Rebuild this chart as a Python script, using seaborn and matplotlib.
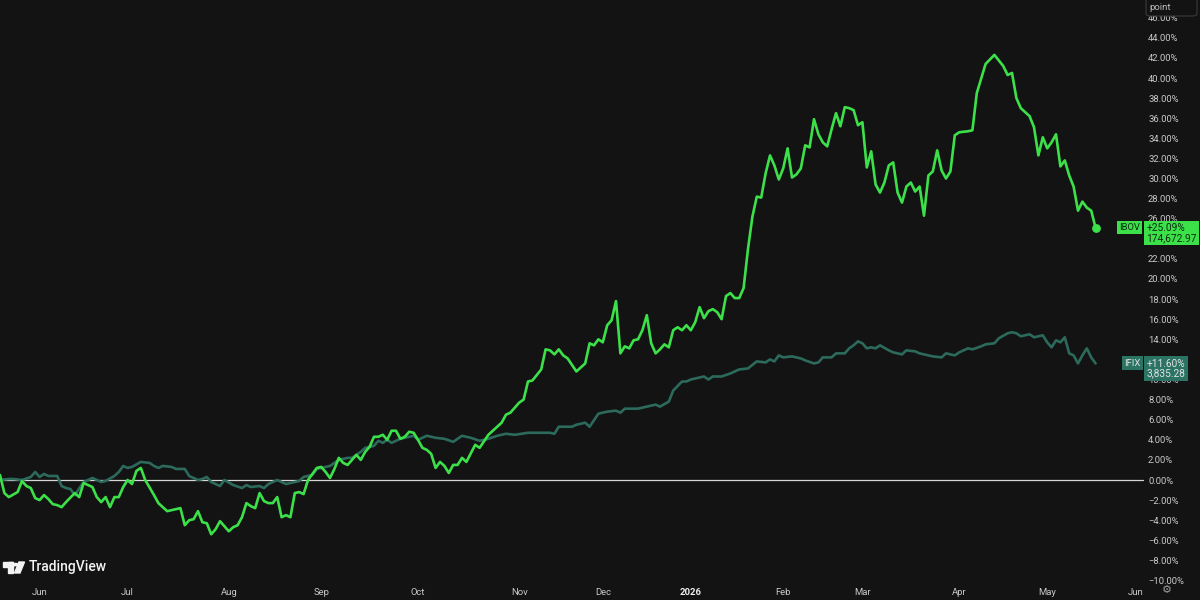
import pandas as pd
import seaborn as sns
import matplotlib.pyplot as plt
from matplotlib.patches import Rectangle, Circle, Polygon, FancyBboxPatch

# IBOV vs IFIX, % change since start, x = trading session index
ibov_day = [0, 1, 2, 4, 5, 6, 7, 8, 9, 10, 11, 12, 13, 14, 15, 17, 18, 19, 21, 22,
            23, 24, 25, 26, 27, 28, 29, 30, 31, 32, 33, 35, 36, 38, 40, 41, 42, 43, 44, 45,
            46, 47, 48, 49, 50, 51, 52, 53, 54, 55, 56, 57, 58, 59, 60, 61, 62, 63, 64, 65,
            66, 67, 68, 69, 70, 72, 73, 74, 75, 76, 77, 78, 79, 80, 81, 82, 83, 84, 85, 86,
            87, 88, 89, 90, 91, 92, 93, 94, 95, 96, 97, 98, 99, 100, 101, 102, 103, 104, 105, 106,
            108, 109, 111, 114, 115, 116, 118, 119, 120, 121, 123, 124, 125, 126, 127, 128, 129, 131, 132, 133,
            134, 135, 136, 137, 138, 139, 140, 141, 142, 143, 144, 145, 146, 147, 148, 149, 150, 151, 152, 153,
            154, 155, 156, 157, 158, 159, 160, 161, 162, 163, 164, 165, 166, 167, 168, 169, 170, 171, 172, 173,
            174, 175, 176, 177, 178, 179, 180, 181, 182, 183, 184, 185, 186, 187, 188, 189, 190, 191, 192, 193,
            194, 195, 196, 197, 198, 199, 200, 201, 202, 203, 204, 205, 206, 207, 208, 209, 210, 211, 212, 213,
            214, 215, 216, 217, 218, 220, 221, 222, 224, 226, 228, 229, 230, 231, 232, 234, 235, 236, 237, 238,
            239, 240, 241, 242, 243, 244, 245, 246, 247, 248, 249]
ibov_pct = [0.5, -1.3, -1.7, -1.2, -0.1, -0.6, -0.8, -1.8, -2.0, -1.5, -1.9, -2.4, -2.5, -2.7, -2.2, -1.3, -1.7, -0.3, -0.7, -1.7,
            -2.2, -1.7, -2.7, -1.7, -1.7, -0.7, 0.0, -0.4, 0.9, 1.2, 0.0, -1.5, -2.3, -3.1, -2.9, -2.8, -4.5, -4.0, -3.9, -3.1,
            -4.2, -4.3, -5.4, -4.9, -4.1, -4.6, -5.1, -4.7, -4.5, -3.7, -2.3, -2.6, -2.8, -1.3, -2.1, -2.3, -2.3, -1.7, -3.7, -3.5,
            -3.7, -1.3, -1.2, -1.4, 0.0, 1.2, 1.3, 0.8, 0.2, 1.1, 2.2, 1.7, 1.5, 2.0, 2.5, 2.0, 2.8, 3.3, 4.3, 4.3,
            4.5, 4.0, 4.9, 4.9, 4.1, 4.3, 4.8, 4.7, 4.0, 3.2, 3.0, 2.6, 1.2, 1.8, 1.4, 0.7, 1.5, 1.5, 2.2, 1.8,
            3.5, 3.2, 4.5, 5.7, 6.5, 6.7, 7.7, 8.0, 9.8, 9.9, 11.0, 13.0, 12.9, 12.5, 13.0, 12.4, 12.1, 10.8, 11.2, 11.6,
            13.6, 13.4, 14.0, 13.7, 15.4, 15.9, 17.8, 12.6, 13.3, 13.1, 13.9, 14.0, 14.9, 16.4, 13.6, 12.6, 13.0, 13.5, 13.2, 14.9,
            15.2, 14.9, 15.4, 14.9, 15.7, 17.2, 16.1, 16.8, 17.0, 16.7, 16.0, 18.3, 18.6, 18.1, 18.1, 19.1, 23.0, 26.2, 28.2, 28.1,
            30.5, 32.3, 31.3, 29.9, 31.0, 33.0, 30.1, 30.4, 31.0, 33.3, 33.1, 35.9, 34.4, 33.6, 33.2, 34.9, 36.5, 35.2, 37.1, 37.0,
            36.8, 35.3, 35.6, 31.1, 32.7, 29.4, 28.6, 29.6, 31.3, 31.6, 28.6, 27.6, 29.2, 29.6, 28.7, 29.2, 26.3, 30.3, 30.7, 32.8,
            30.8, 30.0, 30.7, 34.3, 34.6, 34.7, 34.8, 38.5, 41.4, 42.3, 41.2, 40.3, 40.5, 38.0, 37.0, 36.2, 35.1, 32.3, 34.1, 33.0,
            33.6, 34.4, 31.2, 31.8, 30.3, 29.2, 26.8, 27.7, 27.1, 26.8, 25.09]

ifix_day = [0, 2, 3, 5, 7, 8, 9, 10, 11, 13, 14, 15, 16, 17, 19, 20, 21, 23, 24, 26,
            27, 28, 29, 30, 32, 34, 35, 36, 37, 39, 40, 42, 43, 45, 46, 47, 48, 50, 51, 53,
            55, 56, 57, 59, 60, 61, 63, 64, 65, 67, 68, 69, 71, 72, 73, 75, 76, 77, 79, 80,
            82, 83, 85, 86, 87, 88, 89, 91, 92, 94, 95, 97, 99, 101, 103, 105, 107, 109, 111, 113,
            115, 117, 120, 123, 125, 126, 127, 130, 131, 133, 134, 136, 138, 140, 141, 142, 145, 147, 149, 150,
            152, 153, 155, 156, 157, 160, 161, 162, 164, 166, 168, 170, 172, 174, 175, 176, 177, 178, 180, 182,
            183, 185, 186, 187, 189, 190, 192, 193, 194, 195, 196, 197, 198, 199, 200, 202, 203, 205, 206, 208,
            209, 211, 212, 214, 215, 217, 218, 220, 221, 223, 224, 226, 227, 229, 230, 231, 232, 234, 235, 237,
            238, 239, 240, 241, 242, 243, 244, 245, 246, 247, 248, 249]
ifix_pct = [0.0, 0.1, 0.1, 0.0, 0.3, 0.8, 0.3, 0.6, 0.4, 0.4, -0.6, -0.8, -0.9, -1.5, -0.2, 0.0, 0.2, -0.2, -0.1, 0.4,
            0.8, 1.4, 1.2, 1.3, 1.8, 1.7, 1.4, 1.2, 1.4, 1.3, 1.1, 1.1, 0.4, 0.0, 0.1, 0.3, -0.2, -0.6, 0.0, -0.5,
            -0.8, -0.5, -0.7, -0.6, -0.8, -0.4, 0.0, -0.2, -0.4, -0.2, -0.1, 0.3, 0.5, 1.1, 1.2, 1.4, 1.7, 2.0, 2.2, 2.2,
            2.8, 3.2, 3.4, 3.9, 3.7, 4.0, 3.7, 4.1, 4.2, 4.4, 4.0, 4.4, 4.2, 4.1, 3.8, 4.4, 4.2, 3.9, 4.1, 4.4,
            4.6, 4.5, 4.7, 4.7, 4.7, 4.6, 5.3, 5.3, 5.5, 5.7, 5.3, 6.6, 6.8, 6.9, 6.7, 7.1, 7.1, 7.3, 7.5, 7.3,
            7.8, 8.9, 9.8, 9.8, 10.0, 10.3, 10.0, 10.3, 10.3, 10.6, 11.0, 11.1, 11.8, 11.7, 12.0, 11.8, 12.4, 12.2, 12.3, 12.1,
            11.9, 11.6, 11.7, 12.2, 12.2, 12.6, 12.6, 13.1, 13.4, 13.8, 13.6, 13.1, 13.2, 13.1, 13.4, 12.9, 12.7, 12.5, 12.9, 12.8,
            12.6, 12.4, 12.3, 12.2, 12.6, 12.4, 12.7, 13.1, 13.0, 13.3, 13.5, 13.6, 14.1, 14.6, 14.7, 14.6, 14.3, 14.5, 14.2, 14.4,
            13.7, 13.2, 13.9, 13.7, 14.2, 12.6, 12.4, 11.6, 12.4, 13.1, 12.2, 11.6]

month_pos = [9, 29, 52, 73, 95, 118, 137, 157, 178, 196, 218, 238, 258]
month_labels = ['Jun', 'Jul', 'Aug', 'Sep', 'Oct', 'Nov', 'Dec', '2026', 'Feb', 'Mar', 'Apr', 'May', 'Jun']
ytick_vals = list(range(-10, 48, 2))

ibov_last = ('IBOV', '+25.09%', '174,672.97')
ifix_last = ('IFIX', '+11.60%', '3,835.28')

BG = '#131313'
GREEN = '#3ce14a'
TEAL = '#2c6a5c'
TEAL_LABEL = '#2b7464'
TXT = '#c9c9c9'
FS = 6.8

sns.set_theme(style='dark', rc={'figure.facecolor': BG, 'axes.facecolor': BG,
                                'axes.edgecolor': BG, 'axes.grid': False})
plt.rcParams['font.family'] = ['Roboto', 'DejaVu Sans']

df_ibov = pd.DataFrame({'day': ibov_day, 'pct': ibov_pct})
df_ifix = pd.DataFrame({'day': ifix_day, 'pct': ifix_pct})

fig = plt.figure(figsize=(12, 6), dpi=100)
ax = fig.add_axes([0, 18 / 600, 1112 / 1200, 582 / 600])

ax.axhline(0, xmin=0, xmax=1143 / 1112, color='#d6d6d6', lw=0.9, clip_on=False, zorder=1)
sns.lineplot(data=df_ifix, x='day', y='pct', ax=ax, color=TEAL, lw=1.9, zorder=2)
sns.lineplot(data=df_ibov, x='day', y='pct', ax=ax, color=GREEN, lw=1.9, zorder=3)
ax.scatter([ibov_day[-1]], [ibov_pct[-1]], s=28, color=GREEN, zorder=4)

ax.set_xlabel('')
ax.set_ylabel('')

ax.yaxis.tick_right()
ax.set_yticks(ytick_vals)
ax.set_yticklabels([f'{v:.2f}%'.replace('-', '\u2212') for v in ytick_vals])
ax.tick_params(axis='y', length=0, pad=26, labelsize=FS, labelcolor=TXT)
for lab in ax.get_yticklabels():
    lab.set_horizontalalignment('left')

# months inside the plotted range as ticks, the one past the last bar as text
ax.set_xticks(month_pos[:-1])
ax.set_xticklabels(month_labels[:-1])
ax.tick_params(axis='x', length=0, pad=4, labelsize=FS, labelcolor=TXT)
for lab in ax.get_xticklabels():
    if lab.get_text() == '2026':
        lab.set_fontweight('bold')
        lab.set_color('#f0f0f0')

# limits after the ticks, so the ticks do not widen the view
ax.set_xlim(0, 1112 / 4.4)
ax.set_ylim(-(582 - 480) / 10.05, 480 / 10.05)

ax.annotate(month_labels[-1], xy=(month_pos[-1], 0), xycoords=('data', 'axes fraction'),
            xytext=(0, -4), textcoords='offset points', ha='center', va='top',
            fontsize=FS, color=TXT, annotation_clip=False)

for sp in ax.spines.values():
    sp.set_visible(False)


# price labels on the right scale, anchored at the last value of each series
def last_label(name, val_txt, price_txt, yval, box_col, txt_col, name_dx):
    ax.annotate(name, xy=(1.0, yval), xycoords=('axes fraction', 'data'),
                xytext=(name_dx, 0.3), textcoords='offset points',
                ha='left', va='center', fontsize=FS, color=txt_col, zorder=6,
                bbox=dict(boxstyle='square,pad=0.24', fc=box_col, ec='none'),
                annotation_clip=False)
    ax.annotate(val_txt + '\n' + price_txt, xy=(1.0, yval), xycoords=('axes fraction', 'data'),
                xytext=(24.8, 3.4), textcoords='offset points',
                ha='left', va='top', fontsize=7.3, color=txt_col, linespacing=1.0, zorder=6,
                bbox=dict(boxstyle='square,pad=0.22', fc=box_col, ec='none'),
                annotation_clip=False)


last_label(*ibov_last, ibov_pct[-1], GREEN, '#0d2a10', 5.2)
last_label(*ifix_last, ifix_pct[-1], TEAL_LABEL, '#e2e2e2', 8.6)


def px(x, y):
    return (x / 1200, 1 - y / 600)


# top-right scale mode box
fig.add_artist(FancyBboxPatch(px(1146, 16), 51 / 1200, 18 / 600, transform=fig.transFigure,
                              boxstyle='round,pad=0,rounding_size=0.004', fc=BG, ec='#3a3a3a',
                              lw=0.8, zorder=5))
fig.text(1149 / 1200, 1 - 7 / 600, 'point', ha='left', va='center', fontsize=FS,
         color='#bdbdbd', zorder=6)

# watermark logo, drawn in figure pixels from the top-left corner
logo_col = '#f2f2f2'
fig.add_artist(Rectangle(px(3, 567), 10 / 1200, 5 / 600, transform=fig.transFigure, color=logo_col))
fig.add_artist(Rectangle(px(8, 573), 5 / 1200, 11 / 600, transform=fig.transFigure, color=logo_col))
fig.add_artist(Circle(px(15.8, 564.6), 2.3 / 1200, transform=fig.transFigure, color=logo_col))
fig.add_artist(Polygon([px(19, 562), px(24.5, 562), px(20, 573), px(14.5, 573)],
                       transform=fig.transFigure, color=logo_col))
fig.text(29 / 1200, 1 - 567 / 600, 'TradingView', ha='left', va='center', fontsize=10,
         fontweight='medium', color=logo_col)
fig.text(1167 / 1200, 1 - 590 / 600, '\u2699', ha='center', va='center', fontsize=8,
         color='#9a9a9a', family=['DejaVu Sans'])

fig.savefig('out.png', dpi=100, facecolor=BG)
